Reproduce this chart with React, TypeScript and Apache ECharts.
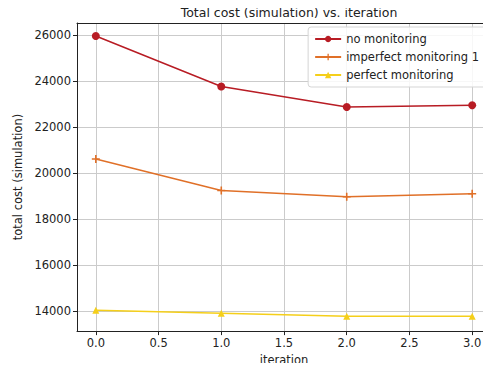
import React, { useEffect, useRef } from "react";
import * as echarts from "echarts";

const iterations = [0, 1, 2, 3];
const noMonitoring = [25957, 23760, 22867, 22950];
const imperfectMonitoring = [20614, 19241, 18969, 19099];
const perfectMonitoring = [14040, 13913, 13783, 13775];
const xTicks = [0, 0.5, 1, 1.5, 2, 2.5, 3];
const yTicks = [14000, 16000, 18000, 20000, 22000, 24000, 26000];

const FONT = "DejaVu Sans";
const PLUS = "path://M4,0H6V4H10V6H6V10H4V6H0V4H4Z";

export default function App() {
  const ref = useRef<HTMLDivElement>(null);
  useEffect(() => {
    if (!ref.current) return;
    const chart = echarts.init(ref.current, null, { renderer: "svg" });
    const pair = (ys: number[]) => iterations.map((x, i) => [x, ys[i]]);
    chart.setOption({
      animation: false,
      backgroundColor: "#fff",
      textStyle: { fontFamily: FONT },
      title: {
        text: "Total cost (simulation) vs. iteration",
        left: 284,
        textAlign: "center",
        top: 1,
        textStyle: { fontFamily: FONT, fontSize: 12.5, fontWeight: "normal", color: "#222" },
      },
      legend: {
        orient: "vertical",
        right: 4,
        top: 27,
        itemWidth: 26,
        itemHeight: 8,
        itemGap: 6,
        padding: [6, 8, 6, 6],
        borderColor: "#d5d5d5",
        borderWidth: 1,
        borderRadius: 3,
        backgroundColor: "rgba(255,255,255,0.85)",
        textStyle: { fontFamily: FONT, fontSize: 11.5, color: "#222" },
        data: ["no monitoring", "imperfect monitoring 1", "perfect monitoring"],
      },
      grid: { left: 77, right: 0, top: 23, bottom: 39, containLabel: false },
      xAxis: [
        {
          type: "value",
          min: -0.15,
          max: 3.15,
          name: "iteration",
          nameLocation: "middle",
          nameGap: 21,
          nameTextStyle: { fontFamily: FONT, fontSize: 11.5, color: "#222" },
          axisLine: { show: true, onZero: false, lineStyle: { color: "#222", width: 1 } },
          axisTick: { show: true, length: 4, customValues: xTicks, lineStyle: { color: "#222" } },
          axisLabel: {
            customValues: xTicks,
            formatter: (v: number) => v.toFixed(1),
            fontFamily: FONT,
            fontSize: 11.5,
            color: "#222",
            margin: 6,
          },
          splitLine: { show: true, lineStyle: { color: "#cbcbcb", width: 1 } },
        },
        {
          type: "value",
          position: "top",
          min: -0.15,
          max: 3.15,
          axisLine: { show: true, onZero: false, lineStyle: { color: "#222", width: 1 } },
          axisTick: { show: false },
          axisLabel: { show: false },
          splitLine: { show: false },
        },
      ],
      yAxis: {
        type: "value",
        min: 13134,
        max: 26520,
        name: "total cost (simulation)",
        nameLocation: "middle",
        nameGap: 48,
        nameTextStyle: { fontFamily: FONT, fontSize: 11.5, color: "#222" },
        axisLine: { show: true, onZero: false, lineStyle: { color: "#222", width: 1 } },
        axisTick: { show: true, length: 4, customValues: yTicks, lineStyle: { color: "#222" } },
        axisLabel: {
          customValues: yTicks,
          formatter: (v: number) => String(v),
          fontFamily: FONT,
          fontSize: 11.5,
          color: "#222",
          margin: 6,
        },
        splitLine: { show: true, lineStyle: { color: "#cbcbcb", width: 1 } },
      },
      series: [
        {
          name: "no monitoring",
          type: "line",
          data: pair(noMonitoring),
          color: "#b81c24",
          symbol: "circle",
          symbolSize: 8,
          lineStyle: { width: 1.5 },
        },
        {
          name: "imperfect monitoring 1",
          type: "line",
          data: pair(imperfectMonitoring),
          color: "#e07028",
          symbol: PLUS,
          symbolSize: 8,
          lineStyle: { width: 1.5 },
        },
        {
          name: "perfect monitoring",
          type: "line",
          data: pair(perfectMonitoring),
          color: "#f5cf1a",
          symbol: "triangle",
          symbolSize: 7,
          lineStyle: { width: 1.5 },
        },
      ],
    });
    return () => chart.dispose();
  }, []);
  return <div ref={ref} style={{ width: 491, height: 371, margin: -8 }} />;
}
